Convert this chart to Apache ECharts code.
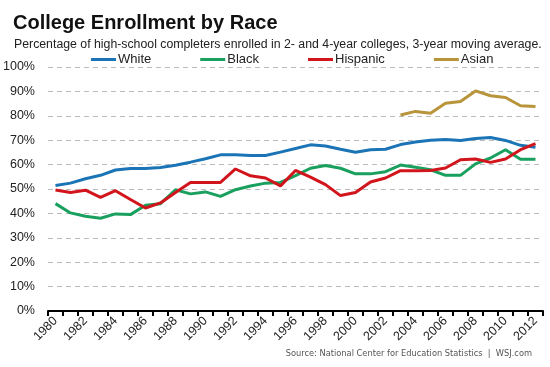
<!DOCTYPE html>
<html>
<head>
<meta charset="utf-8">
<script src="https://cdn.jsdelivr.net/npm/echarts@6/dist/echarts.min.js"></script>
<style>html,body{margin:0;padding:0;background:#fff}#c{width:550px;height:367px}</style>
</head>
<body>
<div id="c"></div>
<script>
const years = [];
for (let y = 1980; y <= 2012; y++) years.push(String(y));

const white = [51.4, 52.4, 54.2, 55.6, 57.8, 58.4, 58.4, 58.8, 59.7, 61.0,
  62.4, 64.0, 64.0, 63.7, 63.7, 65.1, 66.6, 68.1, 67.6, 66.3,
  65.1, 66.1, 66.3, 68.2, 69.3, 70.0, 70.3, 69.9, 70.7, 71.1,
  69.9, 67.9, 67.1];
const black = [44.0, 40.2, 38.8, 38.0, 39.8, 39.5, 43.3, 44.0, 49.7, 48.0,
  48.8, 47.0, 49.7, 51.2, 52.4, 52.7, 55.5, 58.5, 59.6, 58.5,
  56.2, 56.2, 57.1, 59.8, 58.9, 57.9, 55.6, 55.6, 60.3, 62.7,
  66.1, 62.2, 62.2];
const hispanic = [49.6, 48.6, 49.5, 46.6, 49.3, 45.7, 42.2, 44.3, 48.6, 52.7,
  52.7, 52.7, 58.2, 55.4, 54.5, 51.3, 57.6, 54.9, 51.8, 47.3,
  48.6, 52.9, 54.5, 57.5, 57.5, 57.6, 58.6, 62.0, 62.3, 60.9,
  62.3, 66.1, 68.6];
const asian = [null, null, null, null, null, null, null, null, null, null,
  null, null, null, null, null, null, null, null, null, null,
  null, null, null, 80.3, 81.8, 81.0, 85.1, 85.9, 90.2, 88.2,
  87.5, 84.1, 83.8];

const seriesNames = ['White', 'Black', 'Hispanic', 'Asian'];
const seriesData = [white, black, hispanic, asian];
const colors = ['#1b74b6', '#19a05e', '#d2151c', '#b8943a'];

const FONT = '"Liberation Sans", Arial, sans-serif';
const chart = echarts.init(document.getElementById('c'), null, {renderer: 'canvas'});
chart.setOption({
  animation: false,
  backgroundColor: '#fff',
  title: [
    {text: 'College Enrollment by Race', left: 8, top: 8,
     textStyle: {fontFamily: FONT, fontSize: 20, fontWeight: 'bold', color: '#111'}},
    {text: 'Percentage of high-school completers enrolled in 2- and 4-year colleges, 3-year moving average.',
     left: 9, top: 34, textStyle: {fontFamily: FONT, fontSize: 12.3, fontWeight: 'normal', color: '#222'}},
    {text: 'Source: National Center for Education Statistics  |  WSJ.com', right: 13, top: 344,
     textStyle: {fontFamily: '"Liberation Sans Narrow", "DejaVu Sans Condensed", Arial, sans-serif', fontSize: 9.2, fontWeight: 'normal', color: '#555'}}
  ],
  legend: {
    data: seriesNames, left: 91, top: 53, padding: 0, itemGap: 49, itemWidth: 25, itemHeight: 3,
    icon: 'rect',
    textStyle: {fontFamily: FONT, fontSize: 13, color: '#222', padding: [0, 0, 0, -3]}
  },
  grid: {left: 46, right: 7, top: 67, bottom: 56},
  xAxis: {
    type: 'category', data: years, boundaryGap: true,
    axisLine: {lineStyle: {color: '#000', width: 2}},
    axisTick: {show: true, interval: 0, length: 5, lineStyle: {color: '#000', width: 2}},
    axisLabel: {interval: 1, rotate: 45, margin: 8, fontFamily: FONT, fontSize: 12.5, color: '#222'},
    splitLine: {show: false}
  },
  yAxis: {
    type: 'value', min: 0, max: 100, interval: 10,
    axisLine: {show: false}, axisTick: {show: false},
    axisLabel: {formatter: '{value}%', margin: 13, fontFamily: FONT, fontSize: 12.5, color: '#222'},
    splitLine: {lineStyle: {color: '#bbb', type: [5, 4], width: 1}}
  },
  series: seriesNames.map((n, i) => ({
    name: n, type: 'line', data: seriesData[i], showSymbol: false, symbol: 'none',
    lineStyle: {color: colors[i], width: 3}, itemStyle: {color: colors[i]},
    connectNulls: false
  }))
});
</script>
</body>
</html>
